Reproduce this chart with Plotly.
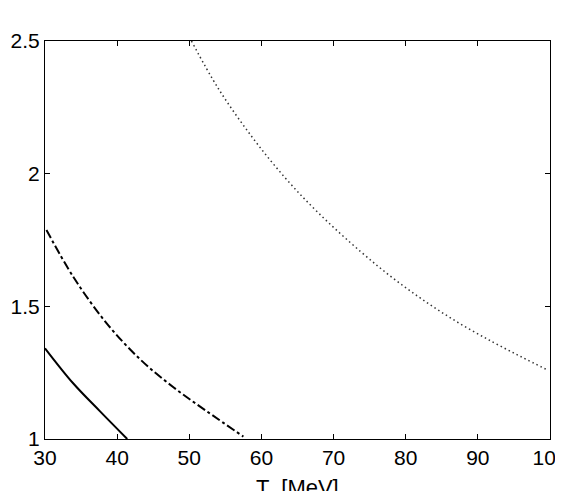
import plotly.graph_objects as go

# values
solid_T = [30.0, 33.9, 37.6, 41.4]
solid_y = [1.342, 1.21, 1.105, 1.0]

dashdot_T = [30.2, 33.9, 38.55, 43.2, 47.8, 52.4, 57.5]
dashdot_y = [1.788, 1.612, 1.436, 1.3, 1.195, 1.105, 1.009]

dotted_T = [50.3, 54.0, 58.65, 63.27, 67.9, 73.8, 78.3, 82.9, 87.5, 92.1, 96.0, 99.8]
dotted_y = [2.5, 2.322, 2.14, 1.985, 1.852, 1.705, 1.605, 1.515, 1.435, 1.365, 1.31, 1.258]

x_ticks = [30, 40, 50, 60, 70, 80, 90, 100]
y_ticks = [1, 1.5, 2, 2.5]

fig = go.Figure()
fig.add_trace(go.Scatter(x=solid_T, y=solid_y, mode="lines", line_shape="spline",
                         line=dict(color="black", width=2)))
fig.add_trace(go.Scatter(x=dashdot_T, y=dashdot_y, mode="lines", line_shape="spline",
                         line=dict(color="black", width=2, dash="dashdot")))
fig.add_trace(go.Scatter(x=dotted_T, y=dotted_y, mode="lines", line_shape="spline",
                         line=dict(color="#333333", width=1.5, dash="1.5px,3px")))

axis_style = dict(showgrid=False, zeroline=False, showline=True, linecolor="black",
                  linewidth=1, mirror="ticks", ticks="inside", ticklen=5,
                  tickcolor="black", automargin=False, ticklabeloverflow="allow",
                  tickfont=dict(family="Liberation Sans", size=21, color="black"))

# page body adds ~8px margin, so the figure is a bit smaller than the window
fig.update_layout(
    width=555, height=483,
    margin=dict(l=37, r=13, t=33, b=52),
    paper_bgcolor="white", plot_bgcolor="white",
    showlegend=False,
    xaxis=dict(range=[30, 100], tickvals=x_ticks, **axis_style),
    yaxis=dict(range=[1, 2.5], tickvals=y_ticks, ticktext=["1", "1.5", "2", "2.5"], **axis_style),
)

fig.add_annotation(text="T  [MeV]", xref="paper", yref="paper", x=0.5, y=0,
                   yanchor="top", yshift=-34, showarrow=False,
                   font=dict(family="Liberation Sans", size=22, color="black"))

fig.write_html("out.html")
